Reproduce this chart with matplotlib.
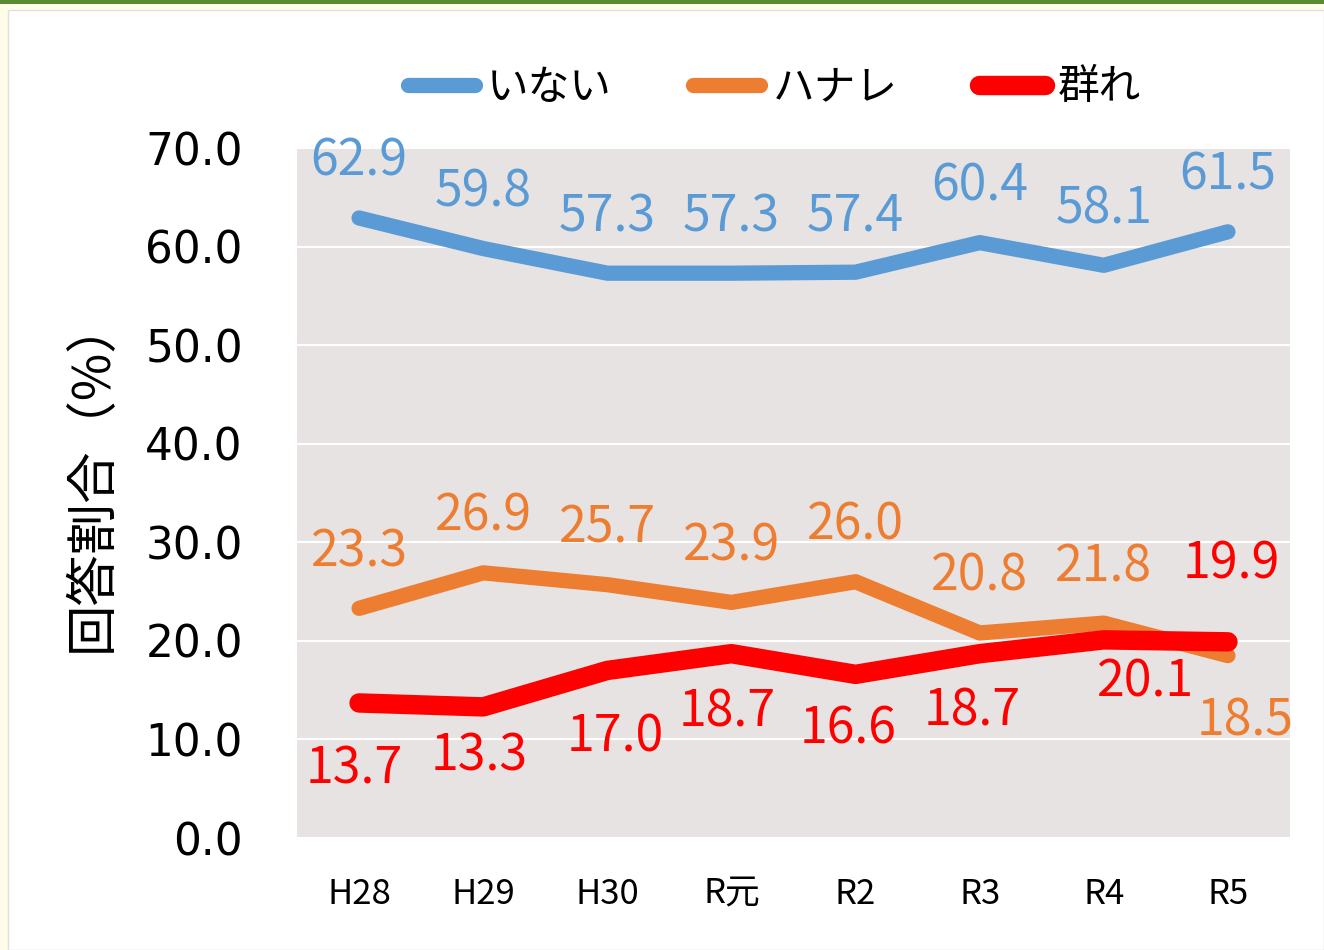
import matplotlib.pyplot as plt
from matplotlib.patches import Rectangle

plt.rcParams['font.family'] = ['Noto Sans CJK JP', 'DejaVu Sans']

years = ['H28', 'H29', 'H30', 'R元', 'R2', 'R3', 'R4', 'R5']
inai = [62.9, 59.8, 57.3, 57.3, 57.4, 60.4, 58.1, 61.5]
hanare = [23.3, 26.9, 25.7, 23.9, 26.0, 20.8, 21.8, 18.5]
mure = [13.7, 13.3, 17.0, 18.7, 16.6, 18.7, 20.1, 19.9]

c_blue = '#5B9BD5'
c_orange = '#ED7D31'
c_red = '#FF0000'

fig = plt.figure(figsize=(13.24, 9.5), dpi=100)
fig.patch.set_facecolor('#FFFDE8')
# white panel and green top bar
fig.patches.append(Rectangle((8/1324, 0), 1 - 8/1324, 1 - 10/950, transform=fig.transFigure,
                             facecolor='white', edgecolor='#E0E0E0', lw=1, zorder=-5))
fig.patches.append(Rectangle((0, 1 - 4/950), 1, 4/950, transform=fig.transFigure,
                             facecolor='#5A8A32', edgecolor='none', zorder=-5))

ax = fig.add_axes([297/1324, 112/950, 993/1324, 690/950])
ax.set_facecolor('#E7E3E3')
x = range(len(years))

ax.plot(x, inai, color=c_blue, lw=11, solid_capstyle='round', solid_joinstyle='round', label='いない', zorder=3)
ax.plot(x, hanare, color=c_orange, lw=11, solid_capstyle='round', solid_joinstyle='round', label='ハナレ', zorder=3)
ax.plot(x, mure, color=c_red, lw=14, solid_capstyle='round', solid_joinstyle='round', label='群れ', zorder=4)

ax.set_xlim(-0.5, len(years) - 0.5)
ax.set_ylim(0, 70)
ax.set_yticks(range(0, 71, 10))
ax.set_yticklabels([f'{v:.1f}' for v in range(0, 71, 10)], fontsize=31.5, family='DejaVu Sans')
ax.set_xticks(list(x))
ax.set_xticklabels(years, fontsize=25)
ax.tick_params(length=0)
ax.tick_params(axis='y', pad=39)
ax.tick_params(axis='x', pad=28)
ax.grid(axis='y', color='white', lw=1.5)
ax.set_axisbelow(True)
for s in ax.spines.values():
    s.set_visible(False)
ax.set_ylabel('回答割合（%）', fontsize=37)
ax.yaxis.set_label_coords(-178/993, 0.5 + 19/690)

# data labels (offsets in pixels)
for i, v in enumerate(inai):
    ax.annotate(f'{v:.1f}', (i, v), xytext=(0, 56), textcoords='offset pixels',
                ha='center', va='center', color=c_blue, fontsize=36)

hanare_off = [(0, 56)] * 7 + [(17, -66)]
for i, v in enumerate(hanare):
    ax.annotate(f'{v:.1f}', (i, v), xytext=hanare_off[i], textcoords='offset pixels',
                ha='center', va='center', color=c_orange, fontsize=36)

mure_off = [(-5, -67), (-4, -50), (8, -67), (-4, -59), (-7, -55), (-7, -58), (42, -43), (3, 77)]
for i, v in enumerate(mure):
    ax.annotate(f'{v:.1f}', (i, v), xytext=mure_off[i], textcoords='offset pixels',
                ha='center', va='center', color=c_red, fontsize=36)

fig.legend(loc='center', bbox_to_anchor=(0.585, 1 - 88/950), ncol=3, frameon=False,
           fontsize=30, handlelength=1.6, handletextpad=0.3, columnspacing=1.95)

fig.savefig('out.png', dpi=100, facecolor=fig.get_facecolor())
